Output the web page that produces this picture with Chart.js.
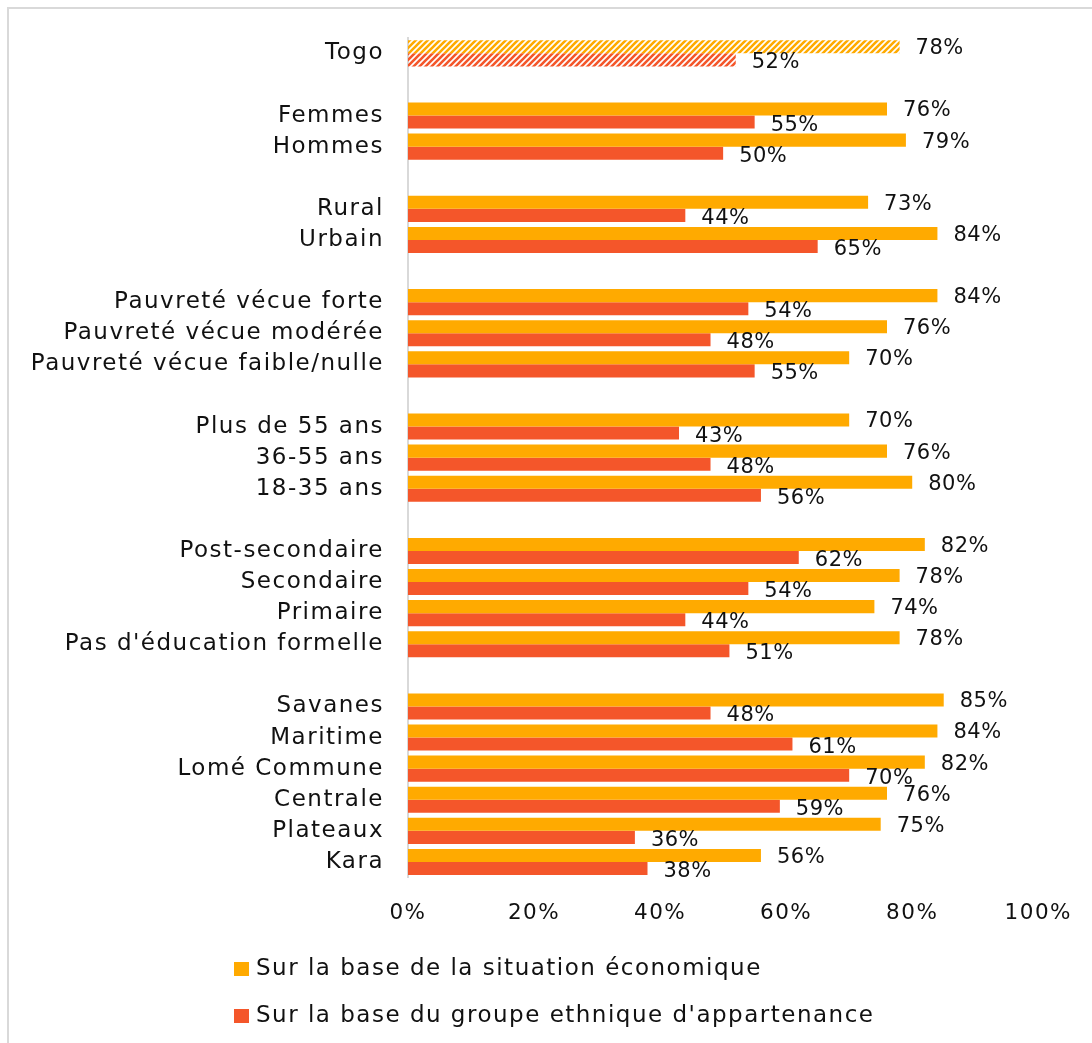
<!DOCTYPE html>
<html>
<head>
<meta charset="utf-8">
<script src="https://cdn.jsdelivr.net/npm/chart.js@4.4.1/dist/chart.umd.min.js"></script>
<style>
  html, body { margin: 0; padding: 0; background: #fff; overflow: hidden; }
  #frame { position: absolute; left: 7px; top: 7px; width: 1200px; height: 1200px; border: 2px solid #d9d9d9; box-sizing: border-box; }
  #wrap { position: absolute; left: 0; top: 0; width: 1092px; height: 1043px; }
</style>
</head>
<body>
<div id="frame"></div>
<div id="wrap"><canvas id="myChart" width="1092" height="1043"></canvas></div>
<script>
// Row labels, empty strings leave a blank row between groups
const categories = [
  "Togo", "",
  "Femmes", "Hommes", "",
  "Rural", "Urbain", "",
  "Pauvreté vécue forte", "Pauvreté vécue modérée", "Pauvreté vécue faible/nulle", "",
  "Plus de 55 ans", "36-55 ans", "18-35 ans", "",
  "Post-secondaire", "Secondaire", "Primaire", "Pas d'éducation formelle", "",
  "Savanes", "Maritime", "Lomé Commune", "Centrale", "Plateaux", "Kara"
];
const economique = [
  78, null,
  76, 79, null,
  73, 84, null,
  84, 76, 70, null,
  70, 76, 80, null,
  82, 78, 74, 78, null,
  85, 84, 82, 76, 75, 56
];
const ethnique = [
  52, null,
  55, 50, null,
  44, 65, null,
  54, 48, 55, null,
  43, 48, 56, null,
  62, 54, 44, 51, null,
  48, 61, 70, 59, 36, 38
];
const xTicks = [0, 20, 40, 60, 80, 100];

const FONT = "'DejaVu Sans', sans-serif";
const YELLOW = "#FFAA00";
const RED = "#F4562A";

// Diagonal stripes for the national total
function stripes(color) {
  const c = document.createElement("canvas");
  c.width = 6; c.height = 6;
  const g = c.getContext("2d");
  g.strokeStyle = color;
  g.lineWidth = 2.6;
  g.beginPath();
  g.moveTo(-1, 7); g.lineTo(7, -1);
  g.moveTo(-4, 4); g.lineTo(4, -4);
  g.moveTo(2, 10); g.lineTo(10, 2);
  g.stroke();
  return g.createPattern(c, "repeat");
}
function colours(base) {
  return categories.map((c, i) => i === 0 ? stripes(base) : base);
}

// Wider letter spacing for the axis text, percent labels right of every bar,
// and the legend underneath
const barLabels = {
  id: "barLabels",
  beforeDraw(chart) {
    chart.ctx.letterSpacing = "1.5px";
  },
  afterDatasetsDraw(chart) {
    const ctx = chart.ctx;
    ctx.save();
    ctx.letterSpacing = "0.5px";
    ctx.font = "21px " + FONT;
    ctx.fillStyle = "#111";
    ctx.textBaseline = "middle";
    ctx.textAlign = "left";
    chart.data.datasets.forEach((ds, di) => {
      chart.getDatasetMeta(di).data.forEach((bar, i) => {
        const v = ds.data[i];
        if (v == null) return;
        ctx.fillText(v + "%", bar.x + 16, bar.y + (di === 0 ? 2 : 3));
      });
    });
    ctx.restore();
  },
  afterDraw(chart) {
    const ctx = chart.ctx;
    ctx.save();
    ctx.letterSpacing = "1.5px";
    ctx.font = "23px " + FONT;
    ctx.textBaseline = "middle";
    chart.data.datasets.forEach((ds, di) => {
      const y = 969 + di * 47;
      ctx.fillStyle = ds.legendColor;
      ctx.fillRect(234, y - 7, 15, 14);
      ctx.fillStyle = "#111";
      ctx.fillText(ds.label, 256, y);
    });
    ctx.restore();
    ctx.letterSpacing = "0px";
  }
};

const data = {
  labels: categories,
  datasets: [
    {
      label: "Sur la base de la situation économique",
      data: economique,
      backgroundColor: colours(YELLOW),
      legendColor: YELLOW,
      barPercentage: 1,
      categoryPercentage: 0.84
    },
    {
      label: "Sur la base du groupe ethnique d'appartenance",
      data: ethnique,
      backgroundColor: colours(RED),
      legendColor: RED,
      barPercentage: 1,
      categoryPercentage: 0.84
    }
  ]
};

const config = {
  type: "bar",
  data: data,
  options: {
    indexAxis: "y",
    responsive: false,
    animation: false,
    layout: { padding: { top: 36, right: 49, left: 0, bottom: 0 } },
    plugins: {
      legend: { display: false },
      tooltip: { enabled: false }
    },
    scales: {
      x: {
        min: 0,
        max: 100,
        afterBuildTicks: (s) => { s.ticks = xTicks.map(v => ({ value: v })); },
        afterFit: (s) => { s.height = 165.5; },
        grid: { display: false, drawTicks: false },
        border: { display: false },
        ticks: {
          padding: 23,
          color: "#111",
          font: { family: FONT, size: 21.5 },
          callback: (v) => v + "%"
        }
      },
      y: {
        afterFit: (s) => { s.width = 408; },
        grid: { display: false, drawTicks: false },
        border: { display: true, color: "#d9d9d9", width: 2 },
        ticks: {
          autoSkip: false,
          padding: 24,
          color: "#111",
          font: { family: FONT, size: 23 }
        }
      }
    }
  },
  plugins: [barLabels]
};

let myChart = new Chart(document.getElementById("myChart").getContext("2d"), config);
</script>
</body>
</html>
